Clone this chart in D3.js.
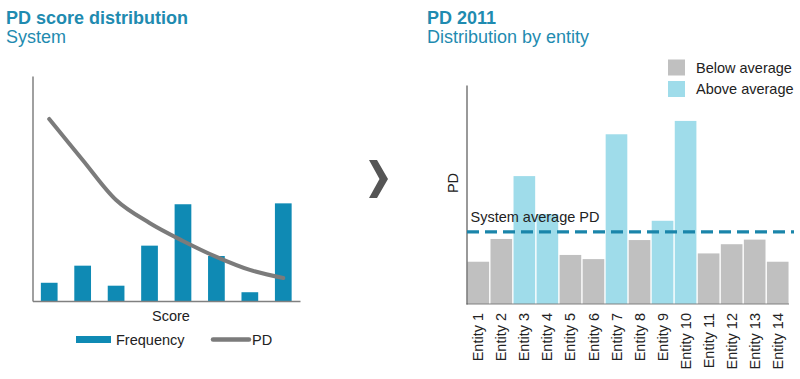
<!DOCTYPE html>
<html>
<head>
<meta charset="utf-8">
<script src="https://cdn.jsdelivr.net/npm/d3@7"></script>
<style>
  body { margin: 0; background: #fff; }
  svg { font-family: "Liberation Sans", Arial, sans-serif; }
</style>
</head>
<body>
<svg id="chart" width="800" height="379"></svg>
<script>
// Left panel: score distribution
const scoreBins = ["1", "2", "3", "4", "5", "6", "7", "8"];
const frequency = [8.1, 15.7, 6.8, 24.6, 43.0, 20.0, 3.9, 43.4];
const pdCurve = [80.9, 62.7, 44.9, 34.7, 26.7, 19.6, 13.8, 10.2];

// Right panel: PD by entity
const entities = ["Entity 1", "Entity 2", "Entity 3", "Entity 4", "Entity 5", "Entity 6", "Entity 7",
                  "Entity 8", "Entity 9", "Entity 10", "Entity 11", "Entity 12", "Entity 13", "Entity 14"];
const entityPD = [19.3, 29.7, 58.4, 41.1, 22.4, 20.5, 77.5, 29.2, 38.0, 83.6, 23.1, 27.3, 29.4, 19.3];
const systemAvgPD = 32.9;

const teal = "#1f8bb0",
      barBlue = "#0f8ab4",
      grey = "#c0c0c0",
      cyan = "#9fdcea";

const svg = d3.select("#chart");

// ---------- titles ----------
function title(x, bold, sub) {
    const t = svg.append("text").attr("x", x).attr("fill", teal).style("font-size", "18px");
    t.append("tspan").attr("x", x).attr("y", 24).attr("font-weight", "bold").text(bold);
    t.append("tspan").attr("x", x).attr("y", 43).text(sub);
}
title(6, "PD score distribution", "System");
title(427, "PD 2011", "Distribution by entity");

// ---------- left chart ----------
const xL = d3.scaleBand().domain(scoreBins).range([32.5, 300]).paddingInner(0.5).paddingOuter(0.25);
const yL = d3.scaleLinear().domain([0, 100]).range([301, 76]);

svg.append("g").selectAll("rect")
    .data(frequency)
    .join("rect")
    .attr("x", (d, i) => xL(scoreBins[i]))
    .attr("y", d => yL(d))
    .attr("width", xL.bandwidth())
    .attr("height", d => yL(0) - yL(d))
    .attr("fill", barBlue);

const pdLine = d3.line()
    .x((d, i) => xL(scoreBins[i]) + xL.bandwidth() / 2)
    .y(d => yL(d))
    .curve(d3.curveCatmullRom.alpha(0.2));

svg.append("path")
    .datum(pdCurve)
    .attr("d", pdLine)
    .attr("fill", "none")
    .attr("stroke", "#7b7b7b")
    .attr("stroke-width", 4)
    .attr("stroke-linecap", "round")
    .attr("stroke-linejoin", "round");

// axes (no ticks)
svg.append("g").attr("transform", "translate(0,301)")
    .call(d3.axisBottom(xL).tickSize(0).tickFormat(""))
    .call(g => g.select(".domain").attr("stroke", "#808080").attr("stroke-width", 1.5));
svg.append("g").attr("transform", "translate(32.5,0)")
    .call(d3.axisLeft(yL).ticks(0).tickSize(0).tickFormat(""))
    .call(g => g.select(".domain").attr("stroke", "#808080").attr("stroke-width", 1.5));

svg.append("text").attr("x", 171).attr("y", 321).attr("text-anchor", "middle")
    .style("font-size", "14.5px").attr("fill", "#222").text("Score");

// legend
svg.append("rect").attr("x", 76).attr("y", 336).attr("width", 35).attr("height", 7).attr("fill", barBlue);
svg.append("text").attr("x", 116).attr("y", 345).style("font-size", "14.5px").attr("fill", "#222").text("Frequency");
svg.append("line").attr("x1", 213).attr("x2", 249).attr("y1", 339.5).attr("y2", 339.5)
    .attr("stroke", "#7b7b7b").attr("stroke-width", 4.5).attr("stroke-linecap", "round");
svg.append("text").attr("x", 252).attr("y", 345).style("font-size", "14.5px").attr("fill", "#222").text("PD");

// ---------- chevron ----------
svg.append("path")
    .attr("d", "M369,160 L377,160 L388,179 L377,198 L369,198 L379.5,179 Z")
    .attr("fill", "#555");

// ---------- right chart ----------
const xR = d3.scaleBand().domain(entities).range([467, 789]).paddingInner(0.06).paddingOuter(0.02);
const yR = d3.scaleLinear().domain([0, 100]).range([304, 85]);

svg.append("g").selectAll("rect")
    .data(entityPD)
    .join("rect")
    .attr("x", (d, i) => xR(entities[i]))
    .attr("y", d => yR(d))
    .attr("width", xR.bandwidth())
    .attr("height", d => yR(0) - yR(d))
    .attr("fill", d => d > systemAvgPD ? cyan : grey);

svg.append("g").attr("transform", "translate(0,304)")
    .call(d3.axisBottom(xR).tickSize(0).tickPadding(0))
    .call(g => g.select(".domain").attr("stroke", "#808080").attr("stroke-width", 1.2).attr("d", "M466.5,0H789"))
    .call(g => g.selectAll("text")
        .attr("transform", "rotate(-90)")
        .attr("text-anchor", "end")
        .attr("x", -9)
        .attr("y", 0)
        .attr("dy", "0.35em")
        .attr("fill", "#222")
        .style("font-size", "14.5px")
        .style("font-family", "\"Liberation Sans\", Arial, sans-serif"));

svg.append("g").attr("transform", "translate(466.5,0)")
    .call(d3.axisLeft(yR).ticks(0).tickSize(0).tickFormat(""))
    .call(g => g.select(".domain").attr("stroke", "#555").attr("stroke-width", 1.2));

svg.append("text")
    .attr("transform", "translate(458,183) rotate(-90)")
    .attr("text-anchor", "middle")
    .style("font-size", "14.5px").attr("fill", "#222").text("PD");

// system average line
svg.append("line")
    .attr("x1", 467).attr("x2", 794)
    .attr("y1", yR(systemAvgPD)).attr("y2", yR(systemAvgPD))
    .attr("stroke", "#1a85aa").attr("stroke-width", 3.2)
    .attr("stroke-dasharray", "12,6");
svg.append("text").attr("x", 470.5).attr("y", yR(systemAvgPD) - 10)
    .style("font-size", "14.5px").attr("fill", "#222").text("System average PD");

// legend
const legend = [{ label: "Below average", color: grey }, { label: "Above average", color: cyan }];
const lg = svg.append("g").selectAll("g").data(legend).join("g")
    .attr("transform", (d, i) => `translate(668,${59.5 + i * 21.5})`);
lg.append("rect").attr("width", 17).attr("height", 16).attr("fill", d => d.color);
lg.append("text").attr("x", 28).attr("y", 13).style("font-size", "14.5px").attr("fill", "#222").text(d => d.label);
</script>
</body>
</html>
